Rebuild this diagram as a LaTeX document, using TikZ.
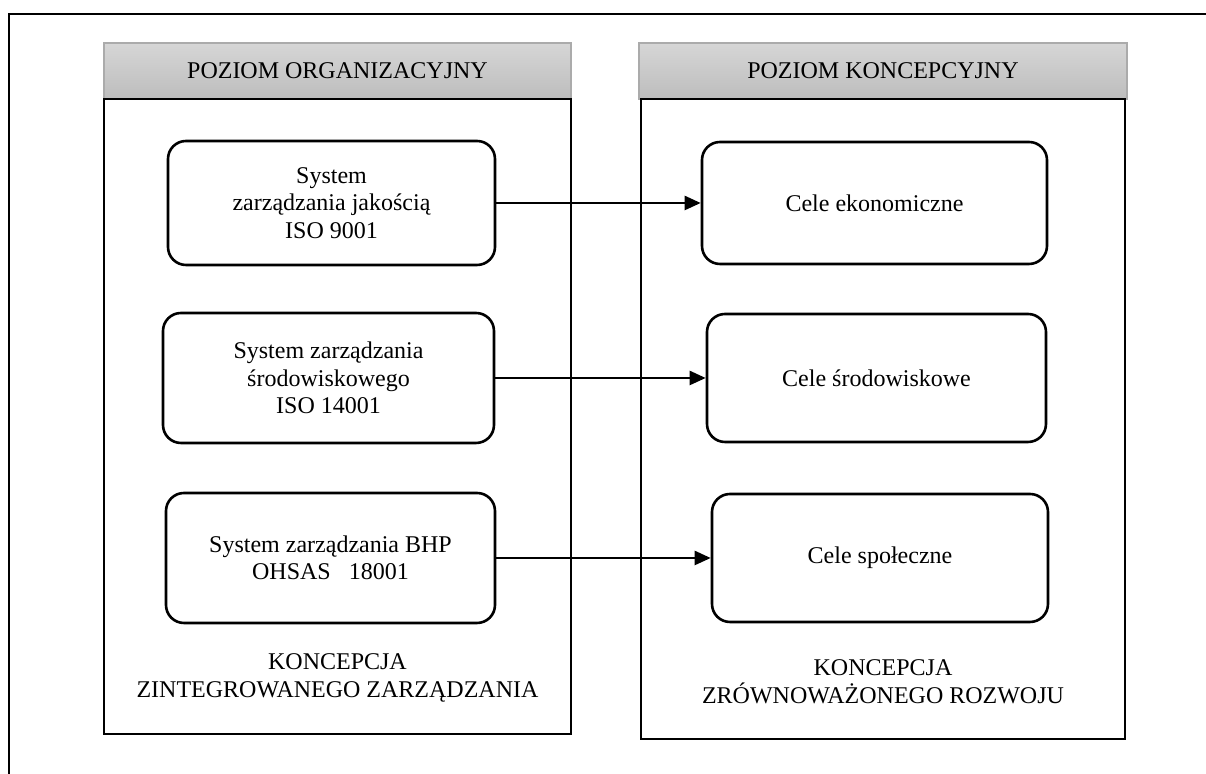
\documentclass[tikz,border=0pt]{standalone}
\usepackage{fontspec}
\setmainfont{Liberation Serif}
\usetikzlibrary{arrows.meta}
\definecolor{hdtop}{HTML}{D6D6D6}
\definecolor{hdbot}{HTML}{BDBDBD}
\definecolor{hdline}{HTML}{ABABAB}
\tikzset{
  sysbox/.style={draw, line width=1.3pt, rounded corners=9pt, align=center},
  head/.style={draw=hdline, line width=0.6pt, top color=hdtop, bottom color=hdbot, minimum height=28pt},
  level/.style={draw, line width=1.2pt},
}
\begin{document}
\begin{tikzpicture}[x=1pt, y=1pt, >={Triangle[length=8pt,width=7pt]},
    font=\fontsize{12pt}{13.8pt}\selectfont]
          \useasboundingbox (0,0) rectangle (603,387);
          \coordinate (fb) at (4.5,0);
          \coordinate (ft) at (4.5,380);
          \coordinate (fr) at (603,380);
          \draw[line width=1.2pt] (fb) -- (ft) -- (fr);

          \node (ho) [head, minimum width=233.5pt] at (168.75,351.5) {POZIOM ORGANIZACYJNY};
          \node (hk) [head, minimum width=244pt] at (441.5,351.5) {POZIOM KONCEPCYJNY};
          \node (lo) [level, minimum width=233.5pt, minimum height=317.5pt] at (168.75,178.75) {};
          \node (lk) [level, minimum width=242pt, minimum height=320pt] at (441.5,177.5) {};
          \node (ko) [align=center] at (168.75,48) {KONCEPCJA\\ZINTEGROWANEGO ZARZĄDZANIA};
          \node (kk) [align=center] at (441.5,46) {KONCEPCJA\\ZRÓWNOWAŻONEGO ROZWOJU};

          \node (1) [sysbox, minimum width=163.5pt, minimum height=62pt] at (165.75,285.5) {System\\zarządzania jakością\\ISO 9001};
          \node (2) [sysbox, minimum width=165.5pt, minimum height=65pt, below of=1, node distance=87.5pt, xshift=-1.5pt] {System zarządzania\\środowiskowego\\ISO 14001};
          \node (3) [sysbox, minimum width=164.5pt, minimum height=65pt, below of=2, node distance=90pt, xshift=1pt] {System zarządzania BHP\\OHSAS\ \ \ 18001};
          \node (4) [sysbox, minimum width=172.5pt, minimum height=61pt, right of=1, node distance=271.5pt] {Cele ekonomiczne};
          \node (5) [sysbox, minimum width=169.5pt, minimum height=64pt, right of=2, node distance=274pt] {Cele środowiskowe};
          \node (6) [sysbox, minimum width=168pt, minimum height=64pt, right of=3, node distance=274.75pt] {Cele społeczne};

          \path[->, line width=1.2pt]
            (1) edge node {} (4)
            (2) edge node {} (5)
            (3) edge node {} (6);

        \end{tikzpicture}
\end{document}
